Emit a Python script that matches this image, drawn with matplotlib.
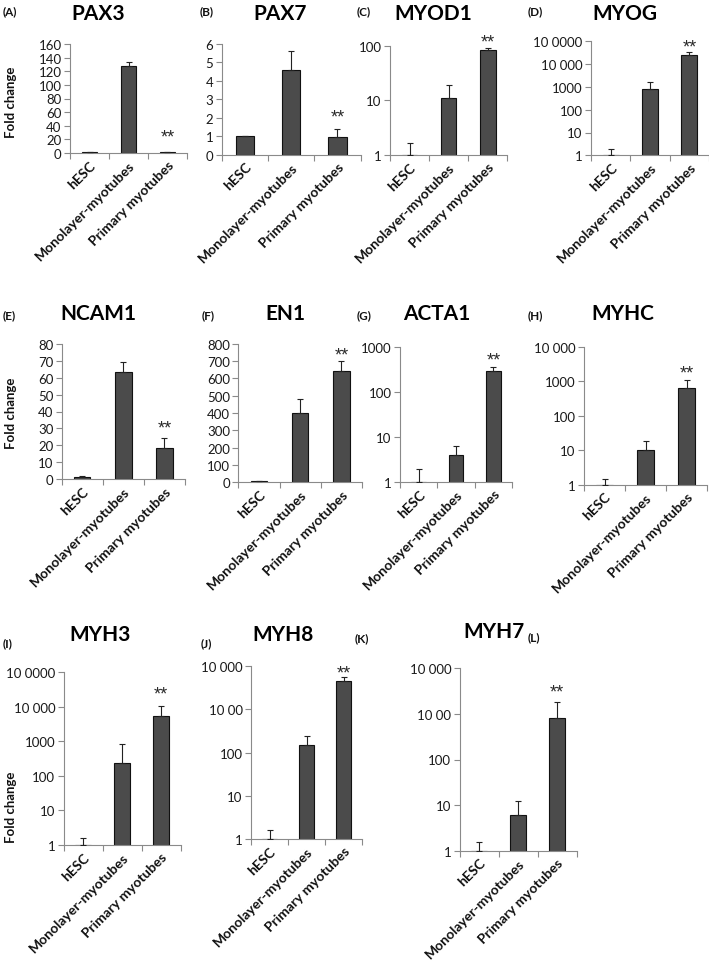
import numpy as np
import matplotlib
matplotlib.use("Agg")
import matplotlib.pyplot as plt

plt.rcParams['font.family'] = ['Lato', 'DejaVu Sans']

categories = ["hESC", "Monolayer-myotubes", "Primary myotubes"]

genes = ["PAX3", "PAX7", "MYOD1", "MYOG", "NCAM1", "EN1", "ACTA1", "MYHC", "MYH3", "MYH8", "MYH7"]
panel_letters = ["(A)", "(B)", "(C)", "(D)", "(E)", "(F)", "(G)", "(H)", "(I)", "(J)", "(K)", "(L)"]

pax3_vals = [1.0, 127.0, 1.5]
pax3_err = [0.6, 7.0, 0.5]
pax7_vals = [1.0, 4.6, 0.97]
pax7_err = [0.0, 1.0, 0.45]
myod1_vals = [1.0, 11.0, 82.0]
myod1_err = [0.66, 8.3, 10.0]
myog_vals = [1.0, 810.0, 25000.0]
myog_err = [0.95, 820.0, 8000.0]
ncam1_vals = [1.2, 63.1, 18.6]
ncam1_err = [0.8, 6.3, 5.8]
en1_vals = [5.0, 398.0, 642.0]
en1_err = [5.0, 83.0, 60.0]
acta1_vals = [1.0, 4.05, 296.0]
acta1_err = [0.95, 2.15, 67.0]
myhc_vals = [1.0, 10.1, 650.0]
myhc_err = [0.46, 7.9, 450.0]
myh3_vals = [1.0, 234.0, 5600.0]
myh3_err = [0.56, 626.0, 4900.0]
myh8_vals = [1.0, 150.0, 4600.0]
myh8_err = [0.59, 88.0, 1100.0]
myh7_vals = [1.0, 6.2, 813.0]
myh7_err = [0.53, 6.3, 1037.0]

all_vals = [pax3_vals, pax7_vals, myod1_vals, myog_vals, ncam1_vals, en1_vals,
            acta1_vals, myhc_vals, myh3_vals, myh8_vals, myh7_vals]
all_errs = [pax3_err, pax7_err, myod1_err, myog_err, ncam1_err, en1_err,
            acta1_err, myhc_err, myh3_err, myh8_err, myh7_err]

# y-axis tick values and their printed labels
lin_ticks = {
    "PAX3": [0, 20, 40, 60, 80, 100, 120, 140, 160],
    "PAX7": [0, 1, 2, 3, 4, 5, 6],
    "NCAM1": [0, 10, 20, 30, 40, 50, 60, 70, 80],
    "EN1": [0, 100, 200, 300, 400, 500, 600, 700, 800],
}
log_ticks = {
    "MYOD1": ([1, 10, 100], ["1", "10", "100"]),
    "MYOG": ([1, 10, 100, 1000, 10000, 100000], ["1", "10", "100", "1000", "10 000", "10 0000"]),
    "ACTA1": ([1, 10, 100, 1000], ["1", "10", "100", "1000"]),
    "MYHC": ([1, 10, 100, 1000, 10000], ["1", "10", "100", "1000", "10 000"]),
    "MYH3": ([1, 10, 100, 1000, 10000, 100000], ["1", "10", "100", "1000", "10 000", "10 0000"]),
    "MYH8": ([1, 10, 100, 1000, 10000], ["1", "10", "100", "10 00", "10 000"]),
    "MYH7": ([1, 10, 100, 1000, 10000], ["1", "10", "100", "10 00", "10 000"]),
}

# ---------------- layout (pixels) ----------------
W, H = 709, 962
fig = plt.figure(figsize=(W / 100, H / 100), dpi=100)

axes_px = [
    (70, 45, 187, 154),
    (221.7, 45, 360.6, 155.7),
    (390, 46.7, 507.3, 156),
    (591, 42.3, 709, 156.3),
    (61.7, 344.7, 185, 480.3),
    (238.3, 344.7, 362, 483.3),
    (400, 348.3, 512, 483),
    (584, 347.7, 707, 485.7),
    (63.5, 673.3, 180.5, 846),
    (251, 667.3, 362, 840),
    (459.5, 669.3, 576.5, 851.7),
]
title_px = [(98, 14.5), (280, 14.5), (433, 14.5), (625, 14.5),
            (98, 314.5), (285, 314.5), (437, 314.5), (623, 314.5),
            (100, 635), (283, 635), (494, 632.5)]
letter_px = [(3, 12), (200, 12), (357, 12), (528, 12),
             (3, 316), (202, 316), (357, 316), (528, 316),
             (3, 644), (201, 644), (355, 639), (528, 638)]
star_off_px = [18, 14.5, 9.4, 9, 13, 9.4, 11, 10.7, 15.6, 7.7, 13.4]
ylabel_px = [(11, 102), (11, 413), (11, 807)]

spine_col = "#8a8a8a"
bar_col = "#4b4b4b"

def fx(x):
    return x / W

def fy(y):
    return 1 - y / H

for i, g in enumerate(genes):
    x0, yt, x1, yb = axes_px[i]
    ax = fig.add_axes([fx(x0), fy(yb), (x1 - x0) / W, (yb - yt) / H])
    vals = np.array(all_vals[i])
    errs = np.array(all_errs[i])
    xpos = np.arange(len(categories))
    is_log = g in log_ticks
    if is_log:
        ax.set_yscale("log")
        ticks, labels = log_ticks[g]
        ax.bar(xpos, vals, width=0.4, color=bar_col, edgecolor="#111111", linewidth=0.8, zorder=2)
        ax.set_ylim(ticks[0], ticks[-1])
        ax.set_yticks(ticks)
        ax.set_yticklabels(labels)
        ax.yaxis.set_minor_locator(matplotlib.ticker.NullLocator())
    else:
        ticks = lin_ticks[g]
        ax.bar(xpos, vals, width=0.4, color=bar_col, edgecolor="#111111", linewidth=0.8, zorder=2)
        ax.set_ylim(ticks[0], ticks[-1])
        ax.set_yticks(ticks)
        ax.set_yticklabels([str(t) for t in ticks])
    lower = np.zeros_like(errs)
    ax.errorbar(xpos, vals, yerr=[lower, errs], fmt="none", ecolor="#222222",
                elinewidth=0.8, capsize=2.5, capthick=0.8, zorder=3)
    ax.set_xlim(-0.5, len(categories) - 0.5)
    ax.set_xticks(np.arange(len(categories) + 1) - 0.5, minor=True)
    ax.set_xticks(xpos)
    ax.set_xticklabels(categories, rotation=45, ha="right", rotation_mode="anchor",
                       fontsize=10, fontweight="bold", color="#111111")
    ax.tick_params(axis="x", which="major", length=0, pad=4)
    ax.tick_params(axis="x", which="minor", length=4, direction="out", color=spine_col, width=0.8)
    ax.tick_params(axis="y", which="major", length=4, direction="out", color=spine_col, width=0.8,
                   labelsize=9.5, labelcolor="#1a1a1a", pad=2)
    for s in ["top", "right"]:
        ax.spines[s].set_visible(False)
    for s in ["left", "bottom"]:
        ax.spines[s].set_color(spine_col)
        ax.spines[s].set_linewidth(0.8)
    ax.patch.set_alpha(0)
    # significance stars above the primary myotubes bar
    top = vals[2] + errs[2]
    ax.annotate("**", xy=(2, top), xytext=(0, star_off_px[i] * 0.72 - 2.5), textcoords="offset points",
                ha="center", va="center", fontsize=13, color="#2a2a2a",
                family=["Liberation Sans", "DejaVu Sans"])
    # title
    tx, ty = title_px[i]
    fig.text(fx(tx), fy(ty), g, ha="center", va="center", fontsize=15, fontweight="bold", color="black")

for j, lab in enumerate(panel_letters):
    lx, ly = letter_px[j]
    fig.text(fx(lx), fy(ly), lab, ha="left", va="center", fontsize=8.5, fontweight="bold", color="#111111")

for (lx, ly) in ylabel_px:
    fig.text(fx(lx), fy(ly), "Fold change", ha="center", va="center", rotation=90,
             fontsize=9.5, fontweight="bold", color="#111111")

fig.savefig("out.png", dpi=100)
